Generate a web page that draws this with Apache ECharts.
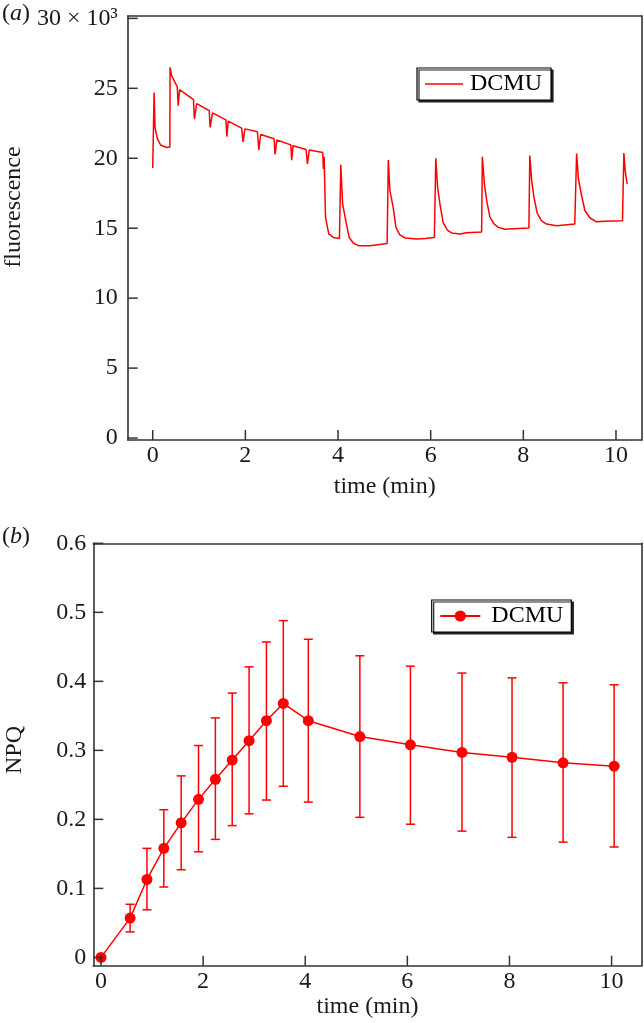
<!DOCTYPE html>
<html><head><meta charset="utf-8">
<script src="https://cdn.jsdelivr.net/npm/echarts@6/dist/echarts.min.js"></script>
<style>html,body{margin:0;padding:0;background:#fff}#c{width:644px;height:1023px}</style>
</head><body><div id="c"></div>
<script>
// Panel (a): fluorescence trace (×10^3) vs time (min)
const fluorTime = [0.00,0.03,0.05,0.10,0.17,0.30,0.37,0.375,0.41,0.50,0.53,0.55,0.58,0.88,0.90,0.95,1.22,1.24,1.29,1.58,1.60,1.63,1.92,1.95,1.99,2.26,2.29,2.33,2.62,2.64,2.68,2.98,3.00,3.03,3.31,3.34,3.38,3.67,3.685,3.70,3.73,3.80,3.90,4.03,4.06,4.10,4.17,4.24,4.33,4.44,4.69,5.06,5.085,5.12,5.19,5.25,5.33,5.45,5.70,5.88,6.08,6.11,6.15,6.20,6.27,6.36,6.45,6.63,6.77,7.10,7.115,7.16,7.21,7.28,7.37,7.46,7.60,7.78,8.12,8.14,8.18,8.23,8.30,8.39,8.50,8.72,9.11,9.15,9.19,9.26,9.33,9.44,9.58,9.76,10.14,10.17,10.20,10.24];
const fluorValue = [19.3,24.7,22.2,21.4,20.95,20.77,20.8,26.5,25.9,25.3,25.1,23.75,24.9,24.2,22.8,23.9,23.4,22.2,23.25,22.75,21.55,22.65,22.15,21.16,22.1,21.9,20.6,21.7,21.4,20.27,21.3,20.96,19.87,20.9,20.63,19.59,20.59,20.41,19.23,20.1,15.77,14.6,14.34,14.27,19.54,16.7,15.5,14.34,13.94,13.75,13.75,13.9,19.87,17.68,16.5,15.06,14.54,14.3,14.23,14.27,14.34,20.0,17.9,16.73,15.4,14.87,14.66,14.58,14.68,14.73,20.1,18.16,16.96,15.77,15.3,15.06,14.92,14.96,15.01,20.2,18.4,17.2,16.06,15.54,15.3,15.18,15.3,20.34,18.5,17.3,16.25,15.73,15.46,15.5,15.54,20.37,19.1,18.16];
const fluorTicks = [0,5,10,15,20,25,30];
const timeTicks = [0,2,4,6,8,10];

// Panel (b): NPQ mean with error bars
const npqTime  = [0,0.57,0.90,1.23,1.57,1.91,2.24,2.57,2.90,3.24,3.57,4.06,5.07,6.06,7.07,8.05,9.05,10.05];
const npqMean  = [0,0.057,0.113,0.158,0.195,0.229,0.258,0.286,0.314,0.343,0.368,0.343,0.320,0.308,0.297,0.290,0.282,0.277];
const npqUpper = [0,0.077,0.158,0.214,0.263,0.307,0.347,0.383,0.421,0.457,0.488,0.461,0.437,0.422,0.412,0.405,0.398,0.395];
const npqLower = [0,0.037,0.069,0.102,0.127,0.153,0.171,0.191,0.208,0.228,0.248,0.225,0.203,0.193,0.183,0.174,0.167,0.160];
const npqTicks = [0,0.1,0.2,0.3,0.4,0.5,0.6];

const FONT = 'Liberation Serif';
const FS = 24;
const TXT = '#1a1a1a';
const RED = '#ff0000';
const AX = '#333333';
const X_EXT = [[-0.54, 10.555], [-0.151, 10.59]];
const Y_EXT = [[-0.14, 30.17], [-0.012, 0.6]];
const TICK_LEN = 10;

function lineCfg() {
  return { show: true, onZero: false, lineStyle: { color: AX, width: 1.6 } };
}
function xAxisCfg(g, gap) {
  return {
    type: 'value', gridIndex: g, min: X_EXT[g][0], max: X_EXT[g][1], position: 'bottom',
    name: 'time (min)', nameLocation: 'middle', nameGap: gap,
    nameTextStyle: { fontFamily: FONT, fontSize: FS, color: TXT },
    axisLine: lineCfg(),
    axisTick: { show: false },
    axisLabel: { show: true, margin: 4, fontFamily: FONT, fontSize: FS, color: TXT, customValues: timeTicks },
    splitLine: { show: false }
  };
}
function frameX(g) {
  return { type: 'value', gridIndex: g, min: X_EXT[g][0], max: X_EXT[g][1], position: 'top',
    axisLine: lineCfg(), axisTick: { show: false }, axisLabel: { show: false }, splitLine: { show: false } };
}
function frameY(g) {
  return { type: 'value', gridIndex: g, min: Y_EXT[g][0], max: Y_EXT[g][1], position: 'right',
    axisLine: lineCfg(), axisTick: { show: false }, axisLabel: { show: false }, splitLine: { show: false } };
}
// inward tick marks placed through the axes' own scales
function tickSeries(g, dir, vals) {
  return {
    type: 'custom', xAxisIndex: g, yAxisIndex: g, silent: true, clip: false, z: 6,
    data: vals.map(v => (dir === 'x' ? [v, Y_EXT[g][0]] : [X_EXT[g][0], v])),
    renderItem: (params, api) => {
      const p = api.coord([api.value(0), api.value(1)]);
      const q = dir === 'x' ? [p[0], p[1] - TICK_LEN] : [p[0] + TICK_LEN, p[1]];
      return { type: 'line', shape: { x1: p[0], y1: p[1], x2: q[0], y2: q[1] },
        style: { stroke: AX, lineWidth: 1.5 } };
    }
  };
}

const chart = echarts.init(document.getElementById('c'), null, { renderer: 'canvas' });
chart.setOption({
  backgroundColor: '#fff',
  animation: false,
  grid: [
    { left: 127.7, right: 2.3, top: 16, bottom: 583 },
    { left: 93.3, right: 2.3, top: 543.3, bottom: 57.3 }
  ],
  xAxis: [
    xAxisCfg(0, 35),
    xAxisCfg(1, 26),
    frameX(0),
    frameX(1)
  ],
  yAxis: [
    {
      type: 'value', gridIndex: 0, min: Y_EXT[0][0], max: Y_EXT[0][1], position: 'left',
      axisLine: lineCfg(),
      axisTick: { show: false },
      axisLabel: { show: true, margin: 10, fontFamily: FONT, fontSize: FS, color: TXT, customValues: fluorTicks,
        formatter: v => (v === 30 ? '30 × 10³' : String(v)) },
      splitLine: { show: false }
    },
    {
      type: 'value', gridIndex: 1, min: Y_EXT[1][0], max: Y_EXT[1][1], position: 'left',
      axisLine: lineCfg(),
      axisTick: { show: false },
      axisLabel: { show: true, margin: 7, fontFamily: FONT, fontSize: FS, color: TXT, customValues: npqTicks,
        formatter: v => String(Math.round(v * 10) / 10) },
      splitLine: { show: false }
    },
    frameY(0),
    frameY(1)
  ],
  legend: [
    {
      data: [{ name: 'DCMU-a', icon: 'rect' }], left: 417, top: 68, orient: 'vertical',
      formatter: () => 'DCMU',
      itemWidth: 38, itemHeight: 1.6,
      itemStyle: { color: RED },
      padding: [4, 9, 4, 8],
      backgroundColor: '#fff', borderColor: '#000', borderWidth: 1.2,
      shadowColor: '#222', shadowOffsetX: 2, shadowOffsetY: 2, shadowBlur: 0,
      textStyle: { fontFamily: FONT, fontSize: 24, color: '#000', padding: [0, 0, 0, 2] },
      selectedMode: false
    },
    {
      data: ['DCMU-b'], left: 431.7, top: 600, orient: 'vertical',
      formatter: () => 'DCMU',
      itemWidth: 40, itemHeight: 14,
      padding: [4, 8, 4, 7.6],
      backgroundColor: '#fff', borderColor: '#000', borderWidth: 1.2,
      shadowColor: '#222', shadowOffsetX: 2, shadowOffsetY: 2, shadowBlur: 0,
      textStyle: { fontFamily: FONT, fontSize: 24, color: '#000', padding: [0, 0, 0, 6] },
      selectedMode: false
    }
  ],
  graphic: [
    { type: 'text', left: 2, top: 2, style: { text: '({i|a})', font: FS + 'px "Liberation Serif"', fill: TXT,
      rich: { i: { fontStyle: 'italic', fontFamily: FONT, fontSize: FS, fill: TXT } } } },
    { type: 'text', left: 2, top: 525, style: { text: '({i|b})', font: FS + 'px "Liberation Serif"', fill: TXT,
      rich: { i: { fontStyle: 'italic', fontFamily: FONT, fontSize: FS, fill: TXT } } } },
    { type: 'text', x: 14, y: 207, rotation: Math.PI / 2,
      style: { text: 'fluorescence', font: FS + 'px "Liberation Serif"', fill: TXT, align: 'center', verticalAlign: 'middle' } },
    { type: 'text', x: 15, y: 750, rotation: Math.PI / 2,
      style: { text: 'NPQ', font: FS + 'px "Liberation Serif"', fill: TXT, align: 'center', verticalAlign: 'middle' } }
  ],
  series: [
    {
      name: 'DCMU-a', type: 'line', xAxisIndex: 0, yAxisIndex: 0,
      data: fluorTime.map((t, i) => [t, fluorValue[i]]),
      symbol: 'none', lineStyle: { color: RED, width: 1.5 }, itemStyle: { color: RED }
    },
    {
      name: 'errbars', type: 'custom', xAxisIndex: 1, yAxisIndex: 1,
      data: npqTime.map((t, i) => [t, npqLower[i], npqUpper[i]]),
      renderItem: (params, api) => {
        const x = api.value(0);
        const lo = api.coord([x, api.value(1)]);
        const hi = api.coord([x, api.value(2)]);
        const w = 4.5;
        const st = { stroke: RED, lineWidth: 1.5 };
        return { type: 'group', children: [
          { type: 'line', shape: { x1: hi[0], y1: hi[1], x2: lo[0], y2: lo[1] }, style: st },
          { type: 'line', shape: { x1: hi[0] - w, y1: hi[1], x2: hi[0] + w, y2: hi[1] }, style: st },
          { type: 'line', shape: { x1: lo[0] - w, y1: lo[1], x2: lo[0] + w, y2: lo[1] }, style: st }
        ] };
      },
      z: 1
    },
    {
      name: 'DCMU-b', type: 'line', xAxisIndex: 1, yAxisIndex: 1,
      data: npqTime.map((t, i) => [t, npqMean[i]]),
      symbol: 'circle', symbolSize: 11, showSymbol: true,
      lineStyle: { color: RED, width: 1.5 }, itemStyle: { color: RED }, z: 3
    },
    tickSeries(0, 'x', timeTicks),
    tickSeries(0, 'y', fluorTicks),
    tickSeries(1, 'x', timeTicks),
    tickSeries(1, 'y', npqTicks)
  ]
});
</script>
</body></html>
